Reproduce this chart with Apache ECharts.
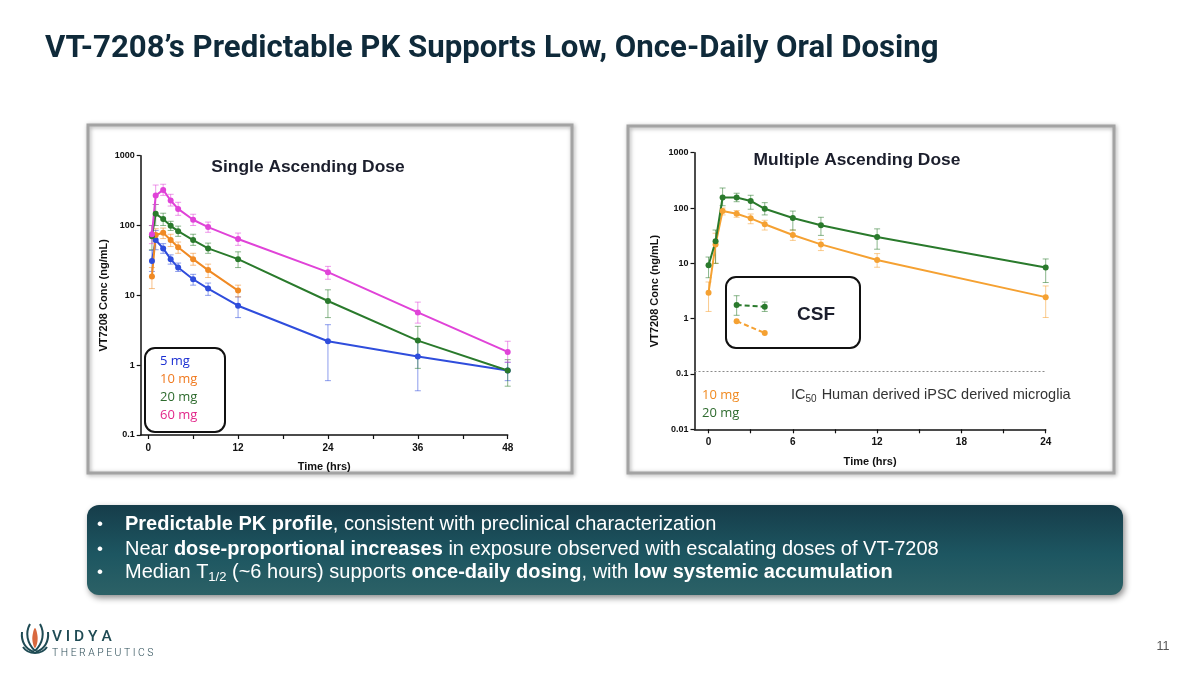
<!DOCTYPE html>
<html>
<head>
<meta charset="utf-8">
<script src="https://cdn.jsdelivr.net/npm/echarts@6/dist/echarts.min.js"></script>
<style>
    html, body { margin: 0; padding: 0; background: #ffffff; }
    #main { width: 1200px; height: 675px; }
</style>
</head>
<body>
<div id="main"></div>
<script>
// ---- data ----
// Single ascending dose (SAD), hours / ng/mL
var sadTime = [0.5, 1, 2, 3, 4, 6, 8, 12, 24, 36, 48];
var sad5mg = [31, 62, 47, 33, 25, 17, 12.5, 7.1, 2.2, 1.33, 0.84];
var sad5mgLow = [22, 45, 40, 28, 22, 14, 10, 4.8, 0.6, 0.43, 0.6];
var sad5mgHigh = [44, 85, 55, 38, 29, 20, 15, 9.5, 3.8, 2.3, 1.1];
var sad10mg = [18.6, 73, 79, 62, 49, 33, 23, 11.7];
var sad10mgLow = [12.5, 58, 65, 50, 40, 27, 18, 9.5];
var sad10mgHigh = [25, 90, 92, 75, 58, 40, 28, 14];
var sad20mg = [70, 147, 124, 99, 83, 62, 47, 33, 8.3, 2.25, 0.84];
var sad20mgLow = [45, 100, 100, 85, 70, 52, 40, 25, 4.8, 0.9, 0.5];
var sad20mgHigh = [100, 200, 150, 115, 98, 75, 56, 42, 12, 3.6, 1.2];
var sad60mg = [75, 269, 324, 228, 173, 121, 95, 64, 21.5, 5.7, 1.55];
var sad60mgLow = [55, 200, 270, 190, 140, 100, 80, 52, 17, 4, 1.1];
var sad60mgHigh = [100, 380, 390, 280, 215, 145, 112, 78, 26, 8, 2.2];

// Multiple ascending dose (MAD)
var madTime = [0, 0.5, 1, 2, 3, 4, 6, 8, 12, 24];
var mad10mg = [2.95, 22, 88, 79, 65, 51, 32.5, 22, 11.5, 2.45];
var mad10mgLow = [1.35, 10, 75, 68, 52, 40, 26, 17, 8.5, 1.05];
var mad10mgHigh = [4.6, 35, 100, 90, 78, 60, 40, 27, 15, 3.9];
var mad20mg = [9.2, 25, 155, 155, 134, 97, 66, 49, 30, 8.4];
var mad20mgLow = [5.5, 10, 110, 130, 95, 75, 40, 32, 18, 4.5];
var mad20mgHigh = [13, 40, 230, 185, 170, 125, 88, 68, 42, 12];

// CSF samples (MAD)
var csfTime = [2, 4];
var csf10mg = [0.9, 0.55];
var csf20mg = [1.77, 1.65];
var csf20mgLow = [1.15, 1.35];
var csf20mgHigh = [2.6, 2.0];

var ic50 = 0.11;

// axis ticks
var sadXLabels = [0, 12, 24, 36, 48];
var sadXTicks = [0, 6, 12, 18, 24, 30, 36, 42, 48];
var madXLabels = [0, 6, 12, 18, 24];
var madXTicks = [0, 3, 6, 9, 12, 15, 18, 21, 24];

var sadNames = ['5 mg', '10 mg', '20 mg', '60 mg'];
var madNames = ['10 mg', '20 mg'];

var C5 = '#2f4ddc', C10 = '#f08a24', C20 = '#2a7a2c', C60 = '#e043d8';
var M10 = '#f5a132', M20 = '#2a7a2c';

function pairs(t, v) {
    var out = [];
    for (var i = 0; i < v.length; i++) {
        out.push([t[i], v[i]]);
    }
    return out;
}

function bars(t, lo, hi) {
    var out = [];
    for (var i = 0; i < lo.length; i++) {
        out.push([t[i], lo[i], hi[i]]);
    }
    return out;
}

function errorSeries(xi, data, color) {
    return {
        type: 'custom',
        xAxisIndex: xi,
        yAxisIndex: xi,
        z: 1,
        silent: true,
        data: data,
        renderItem: function (params, api) {
            var top = api.coord([api.value(0), api.value(2)]);
            var bot = api.coord([api.value(0), api.value(1)]);
            var w = 3;
            var style = {stroke: color, lineWidth: 1, opacity: 0.55};
            return {
                type: 'group',
                children: [
                    {type: 'line', shape: {x1: top[0], y1: top[1], x2: bot[0], y2: bot[1]}, style: style},
                    {type: 'line', shape: {x1: top[0] - w, y1: top[1], x2: top[0] + w, y2: top[1]}, style: style},
                    {type: 'line', shape: {x1: bot[0] - w, y1: bot[1], x2: bot[0] + w, y2: bot[1]}, style: style}
                ]
            };
        }
    };
}

function lineSeries(xi, name, data, color, dashed) {
    return {
        type: 'line',
        name: name,
        xAxisIndex: xi,
        yAxisIndex: xi,
        z: 3,
        data: data,
        symbol: 'circle',
        symbolSize: 6,
        showSymbol: true,
        lineStyle: {color: color, width: 2, type: dashed ? [5, 3] : 'solid'},
        itemStyle: {color: color},
        emphasis: {disabled: true}
    };
}

function logLabel(v) {
    return String(+v.toPrecision(3));
}

var axisFont = 'Liberation Sans';
var tickStyle = {color: '#111', width: 1.2};

function xAxisOf(idx, max, labels, ticks, gap) {
    return {
        type: 'value',
        gridIndex: idx,
        min: -1,
        max: max,
        axisLine: {show: true, onZero: false, lineStyle: {color: '#111', width: 1.5}},
        axisTick: {show: true, length: 4, customValues: ticks, lineStyle: tickStyle},
        axisLabel: {customValues: labels, color: '#111', fontSize: 10, fontWeight: 'bold', fontFamily: axisFont, margin: 8},
        splitLine: {show: false},
        name: 'Time (hrs)',
        nameLocation: 'middle',
        nameGap: gap,
        nameMoveOverlap: false,
        nameTextStyle: {color: '#111', fontSize: 11, fontWeight: 'bold', fontFamily: axisFont}
    };
}

function yAxisOf(idx, min, gap) {
    return {
        type: 'log',
        logBase: 10,
        gridIndex: idx,
        min: min,
        max: 1000,
        axisLine: {show: true, onZero: false, lineStyle: {color: '#111', width: 1.5}},
        axisTick: {show: true, length: 4, lineStyle: tickStyle},
        axisLabel: {formatter: logLabel, color: '#111', fontSize: 9, fontWeight: 'bold', fontFamily: axisFont, margin: 6},
        splitLine: {show: false},
        name: 'VT7208 Conc (ng/mL)',
        nameLocation: 'middle',
        nameRotate: 90,
        nameGap: gap,
        nameMoveOverlap: false,
        nameTextStyle: {color: '#111', fontSize: 11, fontWeight: 'bold', fontFamily: axisFont}
    };
}

var series = [
    errorSeries(0, bars(sadTime, sad5mgLow, sad5mgHigh), C5),
    errorSeries(0, bars(sadTime, sad10mgLow, sad10mgHigh), C10),
    errorSeries(0, bars(sadTime, sad20mgLow, sad20mgHigh), C20),
    errorSeries(0, bars(sadTime, sad60mgLow, sad60mgHigh), C60),
    lineSeries(0, sadNames[0], pairs(sadTime, sad5mg), C5),
    lineSeries(0, sadNames[1], pairs(sadTime, sad10mg), C10),
    lineSeries(0, sadNames[2], pairs(sadTime, sad20mg), C20),
    lineSeries(0, sadNames[3], pairs(sadTime, sad60mg), C60),
    errorSeries(1, bars(madTime, mad10mgLow, mad10mgHigh), M10),
    errorSeries(1, bars(madTime, mad20mgLow, mad20mgHigh), M20),
    lineSeries(1, madNames[0], pairs(madTime, mad10mg), M10),
    lineSeries(1, madNames[1], pairs(madTime, mad20mg), M20),
    errorSeries(1, bars(csfTime, csf20mgLow, csf20mgHigh), M20),
    lineSeries(1, 'CSF 10 mg', pairs(csfTime, csf10mg), M10, true),
    lineSeries(1, 'CSF 20 mg', pairs(csfTime, csf20mg), M20, true)
];
// IC50 reference line
series[10].markLine = {
    silent: true,
    symbol: 'none',
    label: {show: false},
    lineStyle: {color: '#8a8a8a', type: [2, 2], width: 1},
    data: [{yAxis: ic50}]
};

var white = '#ffffff';
var bodyFont = 'Liberation Sans';
var boldRich = {fontWeight: 'bold', fontSize: 20, fontFamily: bodyFont, fill: white};
var teal = '#1f4b54';

function leaf(x1, y1, x2, y2, cx1, cy1, cx2, cy2) {
    return {type: 'bezierCurve', shape: {x1: x1, y1: y1, x2: x2, y2: y2, cpx1: cx1, cpy1: cy1, cpx2: cx2, cpy2: cy2},
        style: {fill: 'none', stroke: teal, lineWidth: 2}};
}

var graphic = [
    // slide title
    {type: 'text', x: 45, y: 49, style: {text: 'VT-7208\u2019s Predictable PK Supports Low, Once-Daily Oral Dosing', fill: '#0f2a3a', font: 'bold 31.2px Roboto', verticalAlign: 'middle'}},
    // chart panels
    {type: 'rect', shape: {x: 88, y: 125, width: 484, height: 348}, style: {fill: 'none', stroke: '#a3a3a3', lineWidth: 3, shadowBlur: 4, shadowColor: 'rgba(0,0,0,0.35)', shadowOffsetX: 1, shadowOffsetY: 1}, z: -1},
    {type: 'rect', shape: {x: 628, y: 126, width: 486, height: 347}, style: {fill: 'none', stroke: '#a3a3a3', lineWidth: 3, shadowBlur: 4, shadowColor: 'rgba(0,0,0,0.35)', shadowOffsetX: 1, shadowOffsetY: 1}, z: -1},
    // chart titles
    {type: 'text', x: 308, y: 167, style: {text: 'Single Ascending Dose', fill: '#1b1e2c', font: 'bold 17.4px Liberation Sans', align: 'center', verticalAlign: 'middle'}},
    {type: 'text', x: 857, y: 160, style: {text: 'Multiple Ascending Dose', fill: '#1b1e2c', font: 'bold 17.4px Liberation Sans', align: 'center', verticalAlign: 'middle'}},
    // SAD legend box
    {type: 'rect', shape: {x: 145, y: 348, width: 80, height: 84, r: 10}, style: {fill: 'none', stroke: '#111', lineWidth: 2}},
    {type: 'text', x: 160, y: 361, style: {text: sadNames[0], fill: '#1b2fd2', font: '13px Open Sans', verticalAlign: 'middle'}},
    {type: 'text', x: 160, y: 379, style: {text: sadNames[1], fill: '#f07a20', font: '13px Open Sans', verticalAlign: 'middle'}},
    {type: 'text', x: 160, y: 397, style: {text: sadNames[2], fill: '#2e6b2e', font: '13px Open Sans', verticalAlign: 'middle'}},
    {type: 'text', x: 160, y: 415, style: {text: sadNames[3], fill: '#e2278a', font: '13px Open Sans', verticalAlign: 'middle'}},
    // CSF box
    {type: 'rect', shape: {x: 726, y: 277, width: 134, height: 71, r: 10}, style: {fill: 'none', stroke: '#111', lineWidth: 2}},
    {type: 'text', x: 816, y: 315, style: {text: 'CSF', fill: '#1b1e2c', font: 'bold 19px Liberation Sans', align: 'center', verticalAlign: 'middle'}},
    // MAD legend + IC50 note
    {type: 'text', x: 702, y: 395, style: {text: madNames[0], fill: '#f08a20', font: '13px Open Sans', verticalAlign: 'middle'}},
    {type: 'text', x: 702, y: 413, style: {text: madNames[1], fill: '#2e6b2e', font: '13px Open Sans', verticalAlign: 'middle'}},
    {type: 'text', x: 791, y: 395, style: {text: 'IC{sub|50} Human derived iPSC derived microglia', fill: '#333', font: '14.5px Liberation Sans', verticalAlign: 'middle',
        rich: {sub: {fontSize: 10, fontFamily: 'Liberation Sans', fill: '#333', padding: [8, 1, 0, 0]}}}},
    // summary box
    {type: 'rect', shape: {x: 87, y: 505, width: 1036, height: 90, r: 12},
        style: {
            fill: new echarts.graphic.LinearGradient(0, 0, 0, 1, [
                {offset: 0, color: '#163d4a'},
                {offset: 0.55, color: '#1d5661'},
                {offset: 1, color: '#2c6166'}
            ]),
            shadowBlur: 6, shadowColor: 'rgba(0,0,0,0.45)', shadowOffsetX: 2, shadowOffsetY: 3
        }},
    {type: 'text', x: 100, y: 524, style: {text: '\u2022', fill: white, font: '17px Liberation Sans', align: 'center', verticalAlign: 'middle'}},
    {type: 'text', x: 100, y: 549, style: {text: '\u2022', fill: white, font: '17px Liberation Sans', align: 'center', verticalAlign: 'middle'}},
    {type: 'text', x: 100, y: 572, style: {text: '\u2022', fill: white, font: '17px Liberation Sans', align: 'center', verticalAlign: 'middle'}},
    {type: 'text', x: 125, y: 524, style: {text: '{b|Predictable PK profile}, consistent with preclinical characterization', fill: white, font: '20px ' + bodyFont, verticalAlign: 'middle',
        rich: {b: boldRich}}},
    {type: 'text', x: 125, y: 549, style: {text: 'Near {b|dose-proportional increases} in exposure observed with escalating doses of VT-7208', fill: white, font: '20px ' + bodyFont, verticalAlign: 'middle',
        rich: {b: boldRich}}},
    {type: 'text', x: 125, y: 572, style: {text: 'Median T{sub|1/2} (~6 hours) supports {b|once-daily dosing}, with {b|low systemic accumulation}', fill: white, font: '20px ' + bodyFont, verticalAlign: 'middle',
        rich: {b: boldRich, sub: {fontSize: 13, fontFamily: bodyFont, fill: white, padding: [10, 0, 0, 0]}}}},
    // logo mark
    leaf(35, 651, 30, 624, 27, 643, 25, 633),
    leaf(35, 651, 40, 624, 43, 643, 45, 633),
    leaf(34, 652, 22, 632, 25, 649, 21, 641),
    leaf(36, 652, 48, 632, 45, 649, 49, 641),
    leaf(35, 653, 23, 647, 29, 653, 25, 650),
    leaf(35, 653, 47, 647, 41, 653, 45, 650),
    {type: 'polygon', shape: {points: [[35, 628], [37, 633], [37.5, 641], [35, 648], [32.5, 641], [33, 633]], smooth: 0.4}, style: {fill: '#d9683e'}},
    {type: 'text', x: 52, y: 637, style: {text: 'V I D Y A', fill: teal, font: '500 15.5px Roboto', verticalAlign: 'middle'}},
    {type: 'text', x: 52, y: 653, style: {text: 'T H E R A P E U T I C S', fill: '#2b4c56', font: '300 10.4px Roboto', verticalAlign: 'middle'}},
    // page number
    {type: 'text', x: 1163, y: 647, style: {text: '11', fill: '#555', font: '12.5px Liberation Sans', align: 'center', verticalAlign: 'middle'}}
];

var chart = echarts.init(document.getElementById('main'), null, {width: 1200, height: 675});
var option = {
    backgroundColor: '#ffffff',
    animation: false,
    grid: [
        {left: 140.7, top: 155.7, width: 367, height: 279.3},
        {left: 694.5, top: 152.7, width: 351.2, height: 276.6}
    ],
    xAxis: [
        xAxisOf(0, 48, sadXLabels, sadXTicks, 26),
        xAxisOf(1, 24, madXLabels, madXTicks, 27)
    ],
    yAxis: [
        yAxisOf(0, 0.1, 31),
        yAxisOf(1, 0.01, 34)
    ],
    graphic: graphic,
    series: series
};
chart.setOption(option);
</script>
</body>
</html>
